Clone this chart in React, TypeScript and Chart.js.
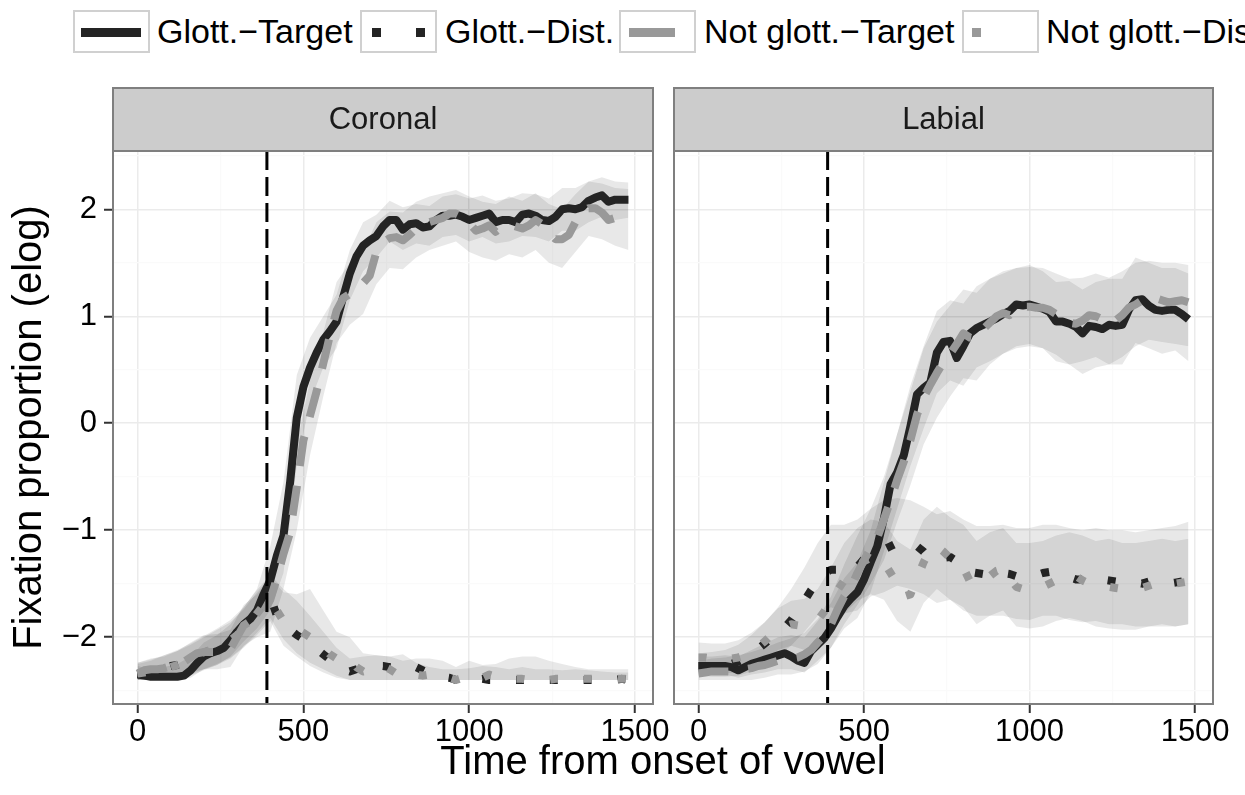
import React, { useEffect, useRef } from "react";
import { Chart, registerables } from "chart.js";

Chart.register(...registerables);

const FONT = "'Liberation Sans', Arial, Helvetica, sans-serif";

// ---------- data ----------
const TIME = [
  0, 20, 40, 60, 80, 100, 120, 140, 160, 180,
  200, 220, 240, 260, 280, 300, 320, 340, 360, 380,
  400, 420, 440, 460, 480, 500, 520, 540, 560, 580,
  600, 620, 640, 660, 680, 700, 720, 740, 760, 780,
  800, 820, 840, 860, 880, 900, 920, 940, 960, 980,
  1000, 1020, 1040, 1060, 1080, 1100, 1120, 1140, 1160, 1180,
  1200, 1220, 1240, 1260, 1280, 1300, 1320, 1340, 1360, 1380,
  1400, 1420, 1440, 1460, 1480,
];

const RIBBON_TIME = [
  0, 40, 80, 120, 160, 200, 240, 280, 320, 360,
  400, 440, 480, 520, 560, 600, 640, 680, 720, 760,
  800, 840, 880, 920, 960, 1000, 1040, 1080, 1120, 1160,
  1200, 1240, 1280, 1320, 1360, 1400, 1440, 1480,
];

const SERIES_LABELS = ["Glott.\u2212Target", "Glott.\u2212Dist.", "Not glott.\u2212Target", "Not glott.\u2212Dist."];
const PANEL_LABELS = ["Coronal", "Labial"];
const X_TICKS = [0, 250, 500, 750, 1000, 1250, 1500];
const Y_TICKS = [-2.5, -2, -1.5, -1, -0.5, 0, 0.5, 1, 1.5, 2, 2.5];
const ONSET_MARK = 390;

// Coronal
const CORONAL_GLOTT_TARGET = [
  -2.35, -2.36, -2.37, -2.37, -2.37, -2.37, -2.37, -2.36, -2.31, -2.24,
  -2.18, -2.15, -2.13, -2.10, -2.03, -1.95, -1.88, -1.83, -1.75, -1.60,
  -1.47, -1.24, -1.05, -0.55, 0.05, 0.34, 0.52, 0.66, 0.78, 0.86,
  0.95, 1.18, 1.40, 1.56, 1.66, 1.71, 1.75, 1.84, 1.90, 1.90,
  1.81, 1.86, 1.87, 1.83, 1.84, 1.90, 1.94, 1.94, 1.95, 1.93,
  1.90, 1.92, 1.94, 1.96, 1.88, 1.90, 1.90, 1.88, 1.95, 1.96,
  1.94, 1.90, 1.89, 1.93, 2.00, 2.01, 2.00, 2.02, 2.08, 2.11,
  2.13, 2.07, 2.09, 2.09, 2.09,
];
const CORONAL_GLOTT_DIST = [
  -2.35, -2.34, -2.33, -2.31, -2.29, -2.27, -2.26, -2.24, -2.21, -2.18,
  -2.15, -2.12, -2.09, -2.06, -2.02, -1.97, -1.91, -1.84, -1.76, -1.66,
  -1.62, -1.80, -1.88, -1.93, -1.98, -2.02, -2.06, -2.11, -2.16, -2.21,
  -2.26, -2.30, -2.32, -2.30, -2.28, -2.27, -2.27, -2.27, -2.28, -2.28,
  -2.27, -2.27, -2.28, -2.31, -2.34, -2.36, -2.37, -2.38, -2.40, -2.40,
  -2.40, -2.40, -2.39, -2.40, -2.40, -2.40, -2.39, -2.40, -2.40, -2.40,
  -2.39, -2.40, -2.40, -2.40, -2.40, -2.39, -2.40, -2.40, -2.40, -2.40,
  -2.40, -2.40, -2.40, -2.39, -2.40,
];
const CORONAL_NOT_TARGET = [
  -2.34, -2.31, -2.30, -2.30, -2.29, -2.27, -2.25, -2.23, -2.19, -2.15,
  -2.14, -2.14, -2.14, -2.13, -2.11, -2.00, -1.89, -1.85, -1.80, -1.76,
  -1.65, -1.45, -1.22, -1.02, -0.60, -0.16, 0.07, 0.30, 0.56, 0.82,
  1.05, 1.17, 1.21, 1.26, 1.31, 1.38, 1.60, 1.69, 1.73, 1.74,
  1.71, 1.76, 1.82, 1.86, 1.88, 1.90, 1.92, 1.96, 1.96, 1.93,
  1.87, 1.80, 1.82, 1.85, 1.79, 1.84, 1.86, 1.84, 1.82, 1.85,
  1.90, 1.86, 1.78, 1.72, 1.72, 1.76, 1.88, 1.97, 2.01, 2.01,
  1.97, 1.90, 1.92, 1.93, 1.91,
];
const CORONAL_NOT_DIST = [
  -2.34, -2.33, -2.32, -2.31, -2.30, -2.28, -2.26, -2.23, -2.20, -2.17,
  -2.14, -2.12, -2.10, -2.07, -2.03, -1.98, -1.92, -1.86, -1.78, -1.70,
  -1.65, -1.75, -1.85, -1.90, -1.92, -1.96, -2.00, -2.05, -2.10, -2.16,
  -2.20, -2.18, -2.20, -2.28, -2.32, -2.30, -2.28, -2.27, -2.30, -2.34,
  -2.38, -2.37, -2.35, -2.36, -2.35, -2.34, -2.36, -2.38, -2.40, -2.38,
  -2.35, -2.37, -2.38, -2.35, -2.37, -2.39, -2.38, -2.39, -2.39, -2.40,
  -2.39, -2.39, -2.40, -2.39, -2.39, -2.39, -2.38, -2.39, -2.39, -2.39,
  -2.39, -2.39, -2.39, -2.39, -2.39,
];

const CORONAL_GLOTT_TARGET_UPPER = [
  -2.27, -2.30, -2.28, -2.25, -2.18, -2.05, -1.98, -1.88, -1.72, -1.55,
  -1.15, -0.55, 0.45, 0.80, 1.00, 1.20, 1.62, 1.88, 1.95, 2.08,
  2.02, 2.05, 2.03, 2.12, 2.14, 2.10, 2.13, 2.08, 2.10, 2.15,
  2.14, 2.10, 2.20, 2.20, 2.26, 2.30, 2.26, 2.25,
];
const CORONAL_GLOTT_TARGET_LOWER = [
  -2.40, -2.40, -2.40, -2.40, -2.38, -2.30, -2.26, -2.18, -2.04, -1.92,
  -1.75, -1.40, -0.40, 0.20, 0.52, 0.70, 1.15, 1.42, 1.55, 1.70,
  1.62, 1.68, 1.66, 1.74, 1.76, 1.70, 1.74, 1.68, 1.70, 1.75,
  1.74, 1.70, 1.80, 1.80, 1.88, 1.93, 1.90, 1.92,
];
const CORONAL_GLOTT_DIST_UPPER = [
  -2.25, -2.22, -2.17, -2.12, -2.06, -1.99, -1.92, -1.84, -1.72, -1.56,
  -1.42, -1.55, -1.66, -1.80, -1.95, -2.10, -2.20, -2.18, -2.17, -2.18,
  -2.16, -2.24, -2.28, -2.30, -2.30, -2.29, -2.27, -2.28, -2.30, -2.28,
  -2.30, -2.30, -2.31, -2.30, -2.31, -2.32, -2.33, -2.33,
];
const CORONAL_GLOTT_DIST_LOWER = [
  -2.40, -2.40, -2.40, -2.38, -2.35, -2.30, -2.25, -2.19, -2.09, -1.96,
  -1.82, -2.02, -2.15, -2.24, -2.30, -2.36, -2.40, -2.40, -2.40, -2.40,
  -2.40, -2.40, -2.40, -2.40, -2.40, -2.40, -2.40, -2.40, -2.40, -2.40,
  -2.40, -2.40, -2.40, -2.40, -2.40, -2.40, -2.40, -2.40,
];
const CORONAL_NOT_TARGET_UPPER = [
  -2.24, -2.20, -2.18, -2.13, -2.05, -1.98, -1.97, -1.93, -1.70, -1.60,
  -1.45, -0.90, -0.20, 0.40, 0.85, 1.32, 1.50, 1.60, 1.88, 1.98,
  1.97, 2.07, 2.12, 2.15, 2.18, 2.12, 2.07, 2.05, 2.12, 2.08,
  2.15, 2.05, 2.00, 2.14, 2.26, 2.24, 2.20, 2.19,
];
const CORONAL_NOT_TARGET_LOWER = [
  -2.40, -2.40, -2.40, -2.38, -2.33, -2.30, -2.30, -2.28, -2.08, -2.00,
  -1.95, -1.55, -1.00, -0.30, 0.25, 0.75, 0.92, 1.02, 1.30, 1.45,
  1.44, 1.55, 1.62, 1.66, 1.70, 1.60, 1.55, 1.52, 1.58, 1.55,
  1.62, 1.50, 1.45, 1.60, 1.75, 1.72, 1.66, 1.62,
];
const CORONAL_NOT_DIST_UPPER = [
  -2.24, -2.21, -2.17, -2.13, -2.07, -2.00, -1.93, -1.86, -1.74, -1.58,
  -1.44, -1.58, -1.60, -1.55, -1.75, -1.95, -2.00, -2.15, -2.17, -2.18,
  -2.22, -2.20, -2.20, -2.22, -2.28, -2.22, -2.26, -2.25, -2.20, -2.18,
  -2.18, -2.22, -2.25, -2.28, -2.30, -2.30, -2.30, -2.30,
];
const CORONAL_NOT_DIST_LOWER = [
  -2.40, -2.40, -2.40, -2.39, -2.36, -2.31, -2.26, -2.20, -2.10, -1.98,
  -1.85, -2.08, -2.18, -2.27, -2.33, -2.38, -2.40, -2.40, -2.40, -2.40,
  -2.40, -2.40, -2.40, -2.40, -2.40, -2.40, -2.40, -2.40, -2.40, -2.40,
  -2.40, -2.40, -2.40, -2.40, -2.40, -2.40, -2.40, -2.40,
];

// Labial
const LABIAL_GLOTT_TARGET = [
  -2.27, -2.27, -2.27, -2.27, -2.27, -2.28, -2.31, -2.28, -2.25, -2.23,
  -2.21, -2.19, -2.17, -2.15, -2.18, -2.22, -2.24, -2.13, -2.07, -2.01,
  -1.92, -1.81, -1.71, -1.64, -1.58, -1.46, -1.30, -1.15, -0.89, -0.57,
  -0.46, -0.30, -0.03, 0.27, 0.33, 0.38, 0.66, 0.76, 0.77, 0.61,
  0.72, 0.84, 0.89, 0.92, 0.95, 0.98, 1.02, 1.05, 1.11, 1.10,
  1.11, 1.09, 1.07, 1.04, 0.95, 0.95, 0.93, 0.90, 0.84, 0.91,
  0.90, 0.88, 0.92, 0.91, 0.92, 1.06, 1.15, 1.16, 1.10, 1.06,
  1.05, 1.06, 1.06, 1.02, 0.97,
];
const LABIAL_GLOTT_DIST = [
  -2.27, -2.27, -2.27, -2.26, -2.26, -2.25, -2.23, -2.20, -2.16, -2.11,
  -2.06, -2.01, -1.96, -1.91, -1.84, -1.75, -1.66, -1.56, -1.48, -1.40,
  -1.37, -1.37, -1.39, -1.40, -1.34, -1.27, -1.22, -1.20, -1.18, -1.15,
  -1.12, -1.10, -1.14, -1.15, -1.20, -1.27, -1.28, -1.26, -1.25, -1.29,
  -1.34, -1.39, -1.40, -1.41, -1.40, -1.38, -1.40, -1.41, -1.43, -1.43,
  -1.43, -1.42, -1.40, -1.39, -1.40, -1.41, -1.44, -1.46, -1.46, -1.46,
  -1.45, -1.46, -1.47, -1.48, -1.48, -1.47, -1.49, -1.50, -1.48, -1.47,
  -1.48, -1.50, -1.49, -1.48, -1.47,
];
const LABIAL_NOT_TARGET = [
  -2.34, -2.33, -2.32, -2.32, -2.32, -2.32, -2.31, -2.30, -2.29, -2.27,
  -2.26, -2.24, -2.22, -2.21, -2.20, -2.19, -2.16, -2.12, -2.05, -1.99,
  -1.88, -1.74, -1.62, -1.54, -1.40, -1.28, -1.17, -1.07, -0.90, -0.72,
  -0.53, -0.36, -0.16, 0.08, 0.24, 0.36, 0.47, 0.57, 0.65, 0.74,
  0.84, 0.80, 0.79, 0.88, 0.94, 1.00, 1.03, 1.01, 1.07, 1.09,
  1.09, 1.08, 1.08, 1.06, 1.02, 0.97, 0.94, 0.93, 0.96, 1.01,
  1.00, 0.97, 0.93, 0.96, 1.01, 1.08, 1.11, 1.15, 1.17, 1.17,
  1.15, 1.13, 1.14, 1.15, 1.13,
];
const LABIAL_NOT_DIST = [
  -2.19, -2.19, -2.20, -2.21, -2.21, -2.20, -2.19, -2.17, -2.13, -2.09,
  -2.04, -1.98, -1.93, -1.90, -1.88, -1.89, -1.90, -1.89, -1.84, -1.76,
  -1.66, -1.56, -1.47, -1.40, -1.34, -1.29, -1.26, -1.25, -1.30, -1.40,
  -1.50, -1.62, -1.60, -1.45, -1.30, -1.18, -1.15, -1.20, -1.26, -1.27,
  -1.35, -1.48, -1.51, -1.47, -1.43, -1.38, -1.36, -1.45, -1.53, -1.55,
  -1.54, -1.55, -1.53, -1.50, -1.47, -1.44, -1.43, -1.43, -1.47, -1.50,
  -1.52, -1.53, -1.53, -1.54, -1.55, -1.55, -1.55, -1.54, -1.52, -1.50,
  -1.49, -1.49, -1.50, -1.49, -1.48,
];

const LABIAL_GLOTT_TARGET_UPPER = [
  -2.18, -2.18, -2.17, -2.18, -2.12, -2.06, -2.00, -1.98, -2.00, -1.85,
  -1.68, -1.45, -1.30, -1.00, -0.55, -0.10, 0.35, 0.72, 1.05, 1.15,
  1.12, 1.28, 1.35, 1.40, 1.45, 1.48, 1.42, 1.32, 1.33, 1.25,
  1.32, 1.35, 1.35, 1.55, 1.50, 1.45, 1.45, 1.40,
];
const LABIAL_GLOTT_TARGET_LOWER = [
  -2.33, -2.34, -2.35, -2.38, -2.35, -2.33, -2.30, -2.30, -2.33, -2.22,
  -2.10, -1.92, -1.82, -1.58, -1.20, -0.80, -0.40, -0.05, 0.28, 0.40,
  0.35, 0.52, 0.58, 0.65, 0.72, 0.74, 0.70, 0.58, 0.55, 0.46,
  0.52, 0.55, 0.55, 0.75, 0.70, 0.65, 0.68, 0.58,
];
const LABIAL_GLOTT_DIST_UPPER = [
  -2.15, -2.14, -2.12, -2.07, -1.98, -1.86, -1.72, -1.55, -1.35, -1.12,
  -0.95, -0.95, -0.90, -0.80, -0.72, -0.70, -0.72, -0.78, -0.85, -0.82,
  -0.90, -0.96, -0.96, -0.95, -0.98, -0.98, -0.95, -0.95, -0.98, -1.00,
  -0.98, -1.00, -1.00, -1.02, -1.00, -0.98, -0.96, -0.92,
];
const LABIAL_GLOTT_DIST_LOWER = [
  -2.36, -2.37, -2.37, -2.36, -2.32, -2.24, -2.17, -2.08, -1.95, -1.80,
  -1.72, -1.78, -1.75, -1.62, -1.58, -1.52, -1.55, -1.60, -1.68, -1.65,
  -1.75, -1.80, -1.80, -1.80, -1.83, -1.84, -1.80, -1.80, -1.84, -1.86,
  -1.85, -1.88, -1.88, -1.90, -1.90, -1.90, -1.90, -1.88,
];
const LABIAL_NOT_TARGET_UPPER = [
  -2.22, -2.20, -2.19, -2.17, -2.14, -2.10, -2.05, -2.01, -1.96, -1.83,
  -1.62, -1.32, -1.05, -0.80, -0.50, -0.10, 0.30, 0.70, 0.95, 1.10,
  1.25, 1.22, 1.35, 1.42, 1.45, 1.46, 1.45, 1.40, 1.35, 1.36,
  1.40, 1.36, 1.42, 1.50, 1.52, 1.50, 1.50, 1.48,
];
const LABIAL_NOT_TARGET_LOWER = [
  -2.40, -2.40, -2.40, -2.40, -2.40, -2.38, -2.35, -2.35, -2.32, -2.25,
  -2.10, -1.88, -1.70, -1.50, -1.28, -0.92, -0.58, -0.20, 0.05, 0.25,
  0.42, 0.40, 0.55, 0.65, 0.70, 0.72, 0.70, 0.64, 0.55, 0.58,
  0.62, 0.55, 0.62, 0.72, 0.78, 0.76, 0.74, 0.72,
];
const LABIAL_NOT_DIST_UPPER = [
  -2.05, -2.06, -2.06, -2.03, -1.96, -1.86, -1.73, -1.66, -1.64, -1.55,
  -1.35, -1.12, -0.98, -0.90, -0.92, -1.10, -1.18, -0.90, -0.78, -0.88,
  -0.95, -1.10, -1.02, -0.98, -1.12, -1.12, -1.10, -1.05, -1.02, -1.05,
  -1.10, -1.08, -1.12, -1.12, -1.10, -1.08, -1.10, -1.08,
];
const LABIAL_NOT_DIST_LOWER = [
  -2.32, -2.33, -2.34, -2.33, -2.29, -2.22, -2.12, -2.08, -2.12, -2.08,
  -1.92, -1.78, -1.66, -1.60, -1.65, -1.85, -1.95, -1.68, -1.55, -1.65,
  -1.72, -1.88, -1.80, -1.75, -1.90, -1.92, -1.90, -1.85, -1.82, -1.85,
  -1.90, -1.92, -1.93, -1.93, -1.90, -1.88, -1.90, -1.88,
];

// ---------- styles ----------
const DARK = "#242424";
const LIGHT = "#999999";
const RIBBON_FILL = "rgba(0,0,0,0.09)";
const LINE_W = 8;
const STYLES = [
  { color: DARK, dash: [] as number[], order: 4 },
  { color: DARK, dash: [8, 26], order: 3 },
  { color: LIGHT, dash: [30, 20], order: 2 },
  { color: LIGHT, dash: [8, 26], order: 1 },
];

type PanelData = { values: number[][]; upper: number[][]; lower: number[][] };

const CORONAL: PanelData = {
  values: [CORONAL_GLOTT_TARGET, CORONAL_GLOTT_DIST, CORONAL_NOT_TARGET, CORONAL_NOT_DIST],
  upper: [CORONAL_GLOTT_TARGET_UPPER, CORONAL_GLOTT_DIST_UPPER, CORONAL_NOT_TARGET_UPPER, CORONAL_NOT_DIST_UPPER],
  lower: [CORONAL_GLOTT_TARGET_LOWER, CORONAL_GLOTT_DIST_LOWER, CORONAL_NOT_TARGET_LOWER, CORONAL_NOT_DIST_LOWER],
};
const LABIAL: PanelData = {
  values: [LABIAL_GLOTT_TARGET, LABIAL_GLOTT_DIST, LABIAL_NOT_TARGET, LABIAL_NOT_DIST],
  upper: [LABIAL_GLOTT_TARGET_UPPER, LABIAL_GLOTT_DIST_UPPER, LABIAL_NOT_TARGET_UPPER, LABIAL_NOT_DIST_UPPER],
  lower: [LABIAL_GLOTT_TARGET_LOWER, LABIAL_GLOTT_DIST_LOWER, LABIAL_NOT_TARGET_LOWER, LABIAL_NOT_DIST_LOWER],
};

const pts = (xs: number[], ys: number[]) => xs.map((x, i) => ({ x, y: ys[i] }));

function buildDatasets(p: PanelData) {
  const ds: any[] = [];
  p.values.forEach((_, i) => {
    ds.push({
      label: SERIES_LABELS[i] + " upper",
      data: pts(RIBBON_TIME, p.upper[i]),
      borderColor: "transparent",
      borderWidth: 0,
      pointRadius: 0,
      fill: false,
      order: 10,
    });
    ds.push({
      label: SERIES_LABELS[i] + " lower",
      data: pts(RIBBON_TIME, p.lower[i]),
      borderColor: "transparent",
      borderWidth: 0,
      pointRadius: 0,
      fill: "-1",
      backgroundColor: RIBBON_FILL,
      order: 10,
    });
  });
  p.values.forEach((vals, i) => {
    ds.push({
      label: SERIES_LABELS[i],
      data: pts(TIME, vals),
      borderColor: STYLES[i].color,
      borderWidth: LINE_W,
      borderDash: STYLES[i].dash,
      borderCapStyle: "butt",
      borderJoinStyle: "round",
      pointRadius: 0,
      fill: false,
      tension: 0,
      order: STYLES[i].order,
    });
  });
  return ds;
}

const panelPlugin = {
  id: "panel",
  beforeDraw(chart: any, _args: any, opts: any) {
    const { ctx, chartArea: a } = chart;
    const stripTop = 88;
    ctx.save();
    ctx.fillStyle = "#CCCCCC";
    ctx.fillRect(a.left, stripTop, a.right - a.left, a.top - stripTop);
    ctx.strokeStyle = "#7F7F7F";
    ctx.lineWidth = 2;
    ctx.strokeRect(a.left, stripTop, a.right - a.left, a.top - stripTop);
    ctx.fillStyle = "#1A1A1A";
    ctx.font = `31px ${FONT}`;
    ctx.textAlign = "center";
    ctx.textBaseline = "middle";
    ctx.fillText(opts.label, (a.left + a.right) / 2, (stripTop + a.top) / 2 + 1);
    ctx.restore();
  },
  afterDatasetsDraw(chart: any, _args: any, opts: any) {
    const { ctx, chartArea: a, scales } = chart;
    const x = scales.x.getPixelForValue(opts.vline);
    ctx.save();
    ctx.beginPath();
    ctx.rect(a.left, a.top, a.right - a.left, a.bottom - a.top);
    ctx.clip();
    ctx.setLineDash([19, 7]);
    ctx.lineWidth = 3;
    ctx.strokeStyle = "#000";
    ctx.beginPath();
    ctx.moveTo(x, a.top);
    ctx.lineTo(x, a.bottom);
    ctx.stroke();
    ctx.restore();
    ctx.save();
    ctx.strokeStyle = "#7F7F7F";
    ctx.lineWidth = 2;
    ctx.strokeRect(a.left, a.top, a.right - a.left, a.bottom - a.top);
    ctx.restore();
  },
};

const fmtNum = (v: number) => (v < 0 ? "\u2212" + Math.abs(v) : String(v));

function makeConfig(p: PanelData, label: string, showY: boolean, width: number): any {
  return {
    type: "line",
    data: { datasets: buildDatasets(p) },
    plugins: [panelPlugin],
    options: {
      animation: false,
      responsive: false,
      maintainAspectRatio: false,
      devicePixelRatio: 1,
      layout: {
        padding: showY
          ? { top: 151, right: width - 653, bottom: 0, left: 0 }
          : { top: 151, right: width - 553, bottom: 0, left: 14 },
      },
      plugins: {
        legend: { display: false },
        tooltip: { enabled: false },
        panel: { label, vline: ONSET_MARK },
      },
      scales: {
        x: {
          type: "linear",
          min: -74,
          max: 1554,
          afterBuildTicks: (s: any) => {
            s.ticks = X_TICKS.map((v) => ({ value: v }));
          },
          afterFit: (s: any) => {
            s.height = 91;
            s.paddingLeft = 0;
            s.paddingRight = 0;
          },
          border: { display: false },
          grid: {
            color: (c: any) => (c.tick && c.tick.value % 500 === 0 ? "#EBEBEB" : "#FAFAFA"),
            lineWidth: (c: any) => (c.tick && c.tick.value % 500 === 0 ? 1.5 : 1.2),
            tickColor: (c: any) => (c.tick && c.tick.value % 500 === 0 ? "#333333" : "rgba(0,0,0,0)"),
            tickLength: 9,
            tickWidth: 2,
            drawTicks: true,
          },
          ticks: {
            autoSkip: false,
            maxRotation: 0,
            padding: 1,
            color: "#000",
            font: { size: 31, family: FONT },
            callback: (v: number) => (v % 500 === 0 ? String(v) : ""),
          },
        },
        y: {
          type: "linear",
          min: -2.625,
          max: 2.545,
          afterBuildTicks: (s: any) => {
            s.ticks = Y_TICKS.map((v) => ({ value: v }));
          },
          afterFit: (s: any) => {
            s.width = showY ? 113 : 0;
            s.paddingTop = 0;
            s.paddingBottom = 0;
          },
          border: { display: false },
          grid: {
            color: (c: any) => (c.tick && Number.isInteger(c.tick.value) ? "#EBEBEB" : "#FAFAFA"),
            lineWidth: (c: any) => (c.tick && Number.isInteger(c.tick.value) ? 1.5 : 1.2),
            tickColor: (c: any) => (showY && c.tick && Number.isInteger(c.tick.value) ? "#333333" : "rgba(0,0,0,0)"),
            tickLength: 9,
            tickWidth: 2,
            drawTicks: showY,
          },
          ticks: {
            display: showY,
            autoSkip: false,
            padding: 7,
            color: "#000",
            font: { size: 31, family: FONT },
            callback: (v: number) => (Number.isInteger(v) ? fmtNum(v) : ""),
          },
          title: {
            display: showY,
            text: "Fixation proportion (elog)",
            color: "#000",
            font: { size: 40, family: FONT },
            padding: { top: 6, bottom: 0 },
          },
        },
      },
    },
  };
}

function Panel({ data, label, showY, left, width }: { data: PanelData; label: string; showY: boolean; left: number; width: number }) {
  const ref = useRef<HTMLCanvasElement | null>(null);
  useEffect(() => {
    if (!ref.current) return;
    const chart = new Chart(ref.current, makeConfig(data, label, showY, width));
    return () => chart.destroy();
  }, []);
  return (
    <canvas
      ref={ref}
      width={width}
      height={795}
      style={{ position: "absolute", left, top: 0, width, height: 795 }}
    />
  );
}

const KEY_LEFT = [73, 360, 619, 962];
const TEXT_LEFT = [157, 445, 704, 1046];

function LegendKey({ i }: { i: number }) {
  const boxStyle: React.CSSProperties = {
    position: "absolute",
    left: KEY_LEFT[i],
    top: 10,
    width: 77,
    height: 43,
    boxSizing: "border-box",
    border: "2px solid #D0D0D0",
    background: "#fff",
  };
  const glyphs: React.ReactNode[] = [];
  if (i === 0) glyphs.push(<div key="a" style={{ position: "absolute", left: 6, top: 16, width: 60, height: 9, background: DARK }} />);
  if (i === 1) {
    glyphs.push(<div key="a" style={{ position: "absolute", left: 10, top: 16, width: 9, height: 9, background: DARK }} />);
    glyphs.push(<div key="b" style={{ position: "absolute", left: 54, top: 16, width: 9, height: 9, background: DARK }} />);
  }
  if (i === 2) glyphs.push(<div key="a" style={{ position: "absolute", left: 8, top: 16, width: 46, height: 9, background: LIGHT }} />);
  if (i === 3) glyphs.push(<div key="a" style={{ position: "absolute", left: 8, top: 16, width: 9, height: 9, background: LIGHT }} />);
  return <div style={boxStyle}>{glyphs}</div>;
}

export default function App() {
  return (
    <div
      style={{
        position: "absolute",
        left: 0,
        top: 0,
        width: 1245,
        height: 795,
        overflow: "hidden",
        background: "#fff",
        fontFamily: FONT,
      }}
    >
      {SERIES_LABELS.map((lab, i) => (
        <React.Fragment key={lab}>
          <LegendKey i={i} />
          <div
            style={{
              position: "absolute",
              left: TEXT_LEFT[i],
              top: 10,
              height: 43,
              display: "flex",
              alignItems: "center",
              fontSize: 34,
              whiteSpace: "nowrap",
              color: "#000",
            }}
          >
            {lab}
          </div>
        </React.Fragment>
      ))}
      <Panel data={CORONAL} label={PANEL_LABELS[0]} showY={true} left={0} width={700} />
      <Panel data={LABIAL} label={PANEL_LABELS[1]} showY={false} left={660} width={585} />
      <div
        style={{
          position: "absolute",
          left: 113,
          width: 1100,
          top: 740,
          textAlign: "center",
          fontSize: 40,
          lineHeight: "40px",
          color: "#000",
          whiteSpace: "nowrap",
        }}
      >
        Time from onset of vowel
      </div>
    </div>
  );
}
